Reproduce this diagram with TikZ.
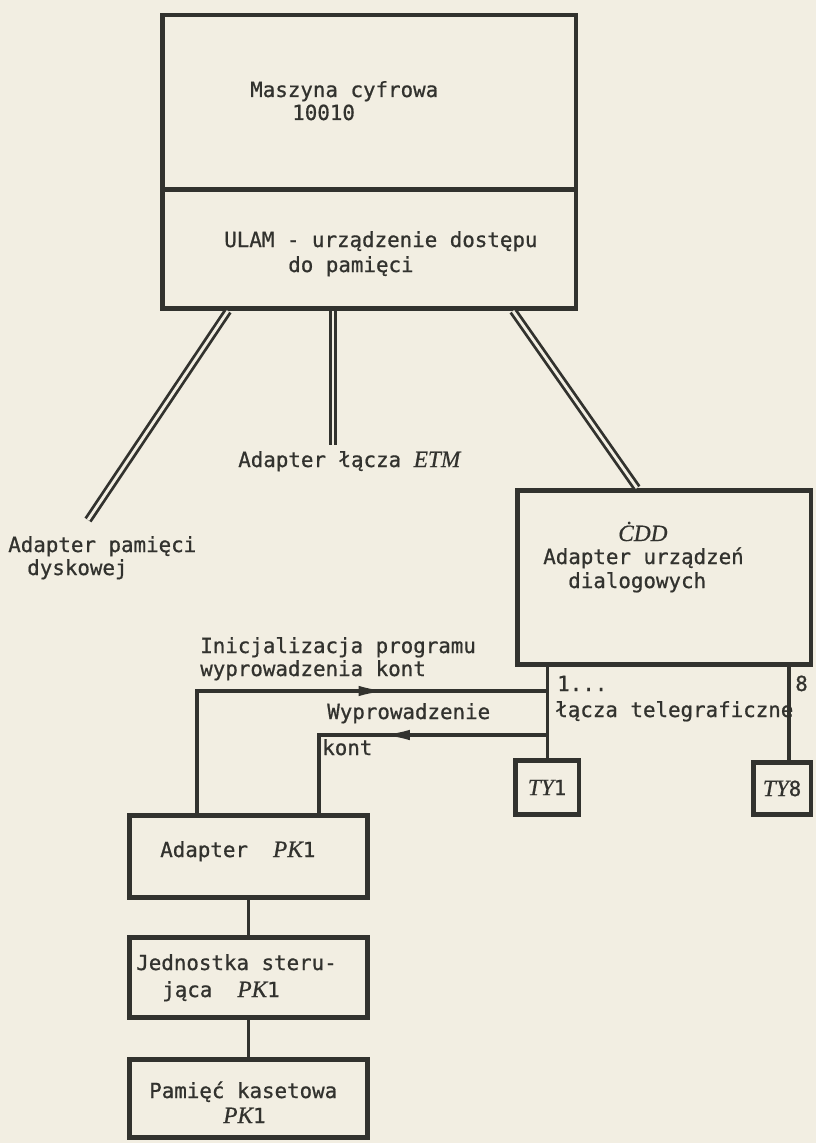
\documentclass[tikz,border=0pt]{standalone}
\usepackage{fontspec}
\setmonofont{DejaVu Sans Mono}[FakeBold=0.8]
\newfontfamily\slantfont{Liberation Serif}[Scale=1.12, FakeBold=0.6]
\usetikzlibrary{arrows.meta,calc,decorations.markings}
\definecolor{ink}{RGB}{50,50,46}
\definecolor{paper}{RGB}{242,238,226}
\newcommand{\sym}[1]{{\slantfont\itshape #1}}

\begin{document}
\begin{tikzpicture}[
    x=0.025cm,
    y=-0.025cm,
    every node/.style={text=ink},
    txt/.style={anchor=base west, inner sep=0pt, font=\ttfamily\fontsize{14.8}{18}\selectfont},
    unit/.style={draw=ink, line width=3.2pt, anchor=north west, inner sep=0pt, font=\ttfamily\fontsize{14.8}{18}\selectfont},
    bus/.style={draw=ink, double=paper, line width=2pt, double distance=2pt},
    link/.style={draw=ink, line width=2.2pt},
    flow/.style={link, postaction={decorate}, decoration={markings, mark=at position #1 with {\arrow{Latex[length=7mm,width=2.6mm]}}}}
]
    \fill[paper] (0,0) rectangle (816,1143);

    \node[unit, minimum width=10.34cm, minimum height=4.36cm] (mc) at (160,13) {};
    \node[unit, minimum width=10.34cm, minimum height=2.96cm] (ulam) at (160,188) {};
    \node[unit, minimum width=7.34cm, minimum height=4.36cm] (cdd) at (515,488) {};
    \node[unit, minimum width=1.59cm, minimum height=1.36cm] (ty1) at (513,758) {\sym{TY}1};
    \node[unit, minimum width=1.44cm, minimum height=1.31cm] (ty8) at (751,760) {\sym{TY}8};
    \node[unit, minimum width=5.96cm, minimum height=2.06cm] (adpk) at (127,813) {};
    \node[unit, minimum width=5.96cm, minimum height=2.01cm] (jspk) at (127,935) {};
    \node[unit, minimum width=5.96cm, minimum height=1.96cm] (pkpk) at (127,1057) {};

    \coordinate (dsk) at (88,520);
    \coordinate (etm) at (333,445);
    \coordinate (tel8) at (789,667);
    \coordinate (br1) at (547,691);
    \coordinate (br2) at (547,735);

    \draw[bus] ($(ulam.south west)+(68,0)$) -- (dsk);
    \draw[bus] ($(ulam.south west)+(173,0)$) -- (etm);
    \draw[bus] ($(ulam.south west)+(353,0)$) -- ($(cdd.north west)+(122,0)$);

    \draw[link] (cdd.south -| ty1.north) -- (ty1.north);
    \draw[link] (tel8) -- (tel8 |- ty8.north);
    \draw[flow=0.66] ($(adpk.north west)+(70,0)$) |- (br1);
    \draw[flow=0.54] (br2) -| ($(adpk.north west)+(192,0)$);
    \draw[link] (adpk.south) -- (jspk.north);
    \draw[link] (jspk.south) -- (pkpk.north);

    \foreach \n/\x/\y/\t in {
        mc1/250/97/{Maszyna cyfrowa}, mc2/292/120/{10010},
        ul1/224/247/{ULAM - urządzenie dostępu}, ul2/288/272/{do pamięci},
        tetm/238/467/{Adapter łącza \sym{ETM}},
        dsk1/8/552/{Adapter pamięci}, dsk2/27/575/{dyskowej},
        cdd1/618/541/{\sym{ĊDD}}, cdd2/543/564/{Adapter urządzeń}, cdd3/568/588/{dialogowych},
        ln1/557/691/{1...}, ln8/795/691/{8}, ln2/555/717/{łącza telegraficzne},
        in1/200/653/{Inicjalizacja programu}, in2/200/676/{wyprowadzenia kont},
        wy1/327/719/{Wyprowadzenie}, wy2/322/755/{kont},
        ad1/160/857/{Adapter\ \ \sym{PK}1},
        js1/136/970/{Jednostka steru-}, js2/162/997/{jąca\ \ \sym{PK}1},
        pk1/149/1098/{Pamięć kasetowa}, pk2/223/1123/{\sym{PK}1}
    }{
        \node[txt] (\n) at (\x,\y) {\t};
    }

\end{tikzpicture}
\end{document}
